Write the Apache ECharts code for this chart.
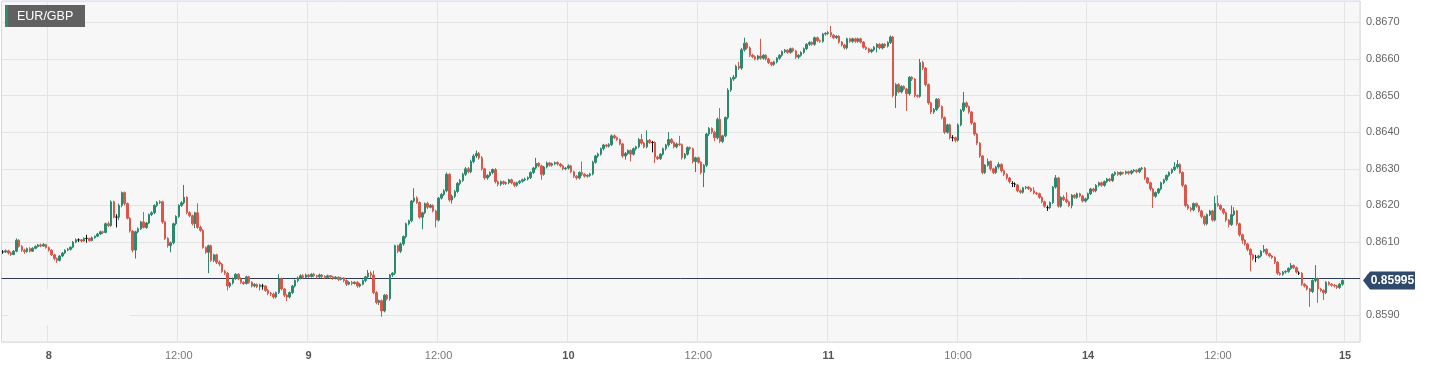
<!DOCTYPE html>
<html>
<head>
<meta charset="utf-8">
<script src="https://cdn.jsdelivr.net/npm/echarts@6/dist/echarts.min.js"></script>
<style>
html,body{margin:0;padding:0;background:#fff;}
#chart{width:1430px;height:368px;}
</style>
</head>
<body>
<div id="chart"></div>
<script>
// EUR/GBP 15-minute candles, each entry: [open, close, low, high]
const d07pm = [[0.86073,0.86073,0.86068,0.86078],[0.86073,0.86076,0.86070,0.86080],[0.86076,0.86070,0.86066,0.86079],[0.86070,0.86066,0.86062,0.86074],[0.86066,0.86075,0.86064,0.86078],[0.86075,0.86105,0.86072,0.86110],[0.86105,0.86088,0.86085,0.86108],[0.86088,0.86078,0.86073,0.86092],[0.86078,0.86074,0.86068,0.86082],[0.86074,0.86082,0.86071,0.86085],[0.86082,0.86075,0.86072,0.86086],[0.86075,0.86083,0.86073,0.86086],[0.86083,0.86088,0.86080,0.86091],[0.86088,0.86092,0.86085,0.86095],[0.86092,0.86089,0.86086,0.86096],[0.86089,0.86093,0.86087,0.86097],[0.86093,0.86085,0.86082,0.86095]];
const d08am = [[0.86085,0.86078,0.86074,0.86088],[0.86078,0.86065,0.86062,0.86080],[0.86065,0.86055,0.86050,0.86068],[0.86055,0.86050,0.86043,0.86058],[0.86050,0.86062,0.86047,0.86064],[0.86062,0.86070,0.86059,0.86073],[0.86070,0.86078,0.86067,0.86080],[0.86078,0.86080,0.86075,0.86084],[0.86080,0.86086,0.86077,0.86088],[0.86086,0.86100,0.86083,0.86103],[0.86100,0.86106,0.86097,0.86110],[0.86106,0.86106,0.86100,0.86110],[0.86106,0.86103,0.86099,0.86108],[0.86103,0.86110,0.86101,0.86113],[0.86110,0.86110,0.86098,0.86120],[0.86110,0.86104,0.86101,0.86112],[0.86104,0.86112,0.86102,0.86115],[0.86112,0.86116,0.86109,0.86118],[0.86116,0.86122,0.86113,0.86125],[0.86122,0.86128,0.86119,0.86131],[0.86128,0.86126,0.86122,0.86131],[0.86126,0.86150,0.86124,0.86153],[0.86150,0.86145,0.86141,0.86156],[0.86145,0.86210,0.86142,0.86214],[0.86210,0.86168,0.86165,0.86213],[0.86168,0.86168,0.86140,0.86176],[0.86168,0.86200,0.86160,0.86205],[0.86200,0.86235,0.86195,0.86238],[0.86235,0.86205,0.86200,0.86238],[0.86205,0.86165,0.86162,0.86208],[0.86165,0.86130,0.86126,0.86168],[0.86130,0.86078,0.86072,0.86133],[0.86078,0.86128,0.86055,0.86131],[0.86128,0.86136,0.86124,0.86140],[0.86136,0.86155,0.86133,0.86158],[0.86155,0.86140,0.86137,0.86182],[0.86140,0.86152,0.86136,0.86155],[0.86152,0.86175,0.86149,0.86178],[0.86175,0.86180,0.86171,0.86184],[0.86180,0.86200,0.86176,0.86203],[0.86200,0.86208,0.86196,0.86212],[0.86208,0.86210,0.86204,0.86214],[0.86210,0.86155,0.86150,0.86213],[0.86155,0.86110,0.86106,0.86158],[0.86110,0.86090,0.86085,0.86113],[0.86090,0.86098,0.86072,0.86101],[0.86098,0.86150,0.86094,0.86153],[0.86150,0.86170,0.86145,0.86173]];
const d08pm = [[0.86170,0.86200,0.86166,0.86203],[0.86200,0.86207,0.86196,0.86212],[0.86207,0.86222,0.86203,0.86256],[0.86222,0.86180,0.86176,0.86225],[0.86180,0.86172,0.86168,0.86184],[0.86172,0.86150,0.86145,0.86175],[0.86150,0.86180,0.86138,0.86183],[0.86180,0.86140,0.86136,0.86206],[0.86140,0.86132,0.86128,0.86145],[0.86132,0.86085,0.86082,0.86135],[0.86085,0.86072,0.86068,0.86088],[0.86072,0.86090,0.86015,0.86093],[0.86090,0.86050,0.86046,0.86093],[0.86050,0.86065,0.86045,0.86068],[0.86065,0.86045,0.86040,0.86068],[0.86045,0.86040,0.86034,0.86050],[0.86040,0.86020,0.86016,0.86043],[0.86020,0.86015,0.86010,0.86024],[0.86015,0.85980,0.85968,0.86018],[0.85980,0.85988,0.85975,0.85991],[0.85988,0.86000,0.85984,0.86003],[0.86000,0.86012,0.85997,0.86015],[0.86012,0.86000,0.85996,0.86015],[0.86000,0.85990,0.85986,0.86004],[0.85990,0.85987,0.85983,0.85993],[0.85987,0.86005,0.85984,0.86008],[0.86005,0.85990,0.85986,0.86008],[0.85990,0.85980,0.85976,0.85993],[0.85980,0.85984,0.85976,0.85988],[0.85984,0.85978,0.85974,0.85987],[0.85978,0.85983,0.85968,0.85986],[0.85980,0.85980,0.85970,0.85986],[0.85980,0.85968,0.85964,0.85982],[0.85968,0.85960,0.85955,0.85972],[0.85960,0.85958,0.85952,0.85964],[0.85958,0.85950,0.85945,0.85962],[0.85950,0.85962,0.85946,0.85965],[0.85962,0.86000,0.85958,0.86012],[0.86000,0.85972,0.85968,0.86003],[0.85972,0.85955,0.85950,0.85975],[0.85955,0.85950,0.85939,0.85958],[0.85950,0.85962,0.85946,0.85965],[0.85962,0.85980,0.85958,0.85983],[0.85980,0.85995,0.85976,0.85998],[0.85995,0.86002,0.85990,0.86006],[0.86002,0.86008,0.85998,0.86012],[0.86008,0.86004,0.86000,0.86012],[0.86004,0.86010,0.86001,0.86014]];
const d09am = [[0.86010,0.86006,0.86002,0.86013],[0.86006,0.86012,0.86003,0.86015],[0.86012,0.86008,0.86004,0.86016],[0.86008,0.86005,0.86000,0.86011],[0.86005,0.86010,0.86002,0.86014],[0.86010,0.86006,0.86002,0.86013],[0.86006,0.86003,0.85999,0.86009],[0.86003,0.86008,0.86000,0.86011],[0.86008,0.86005,0.86000,0.86010],[0.86005,0.86001,0.85997,0.86008],[0.86001,0.86004,0.85998,0.86007],[0.86004,0.85998,0.85994,0.86006],[0.85998,0.86002,0.85995,0.86005],[0.86002,0.85995,0.85990,0.86004],[0.85995,0.85985,0.85980,0.85998],[0.85985,0.85990,0.85982,0.85993],[0.85990,0.85987,0.85982,0.85994],[0.85987,0.85990,0.85984,0.85993],[0.85990,0.85980,0.85975,0.85993],[0.85980,0.85985,0.85976,0.85988],[0.85985,0.85995,0.85982,0.85998],[0.85995,0.86005,0.85990,0.86008],[0.86005,0.86015,0.86000,0.86024],[0.86015,0.86010,0.86002,0.86020],[0.86010,0.85962,0.85958,0.86022],[0.85962,0.85935,0.85930,0.85966],[0.85935,0.85940,0.85928,0.85943],[0.85940,0.85912,0.85896,0.85943],[0.85912,0.85955,0.85908,0.85958],[0.85955,0.85945,0.85941,0.85958],[0.85945,0.86010,0.85940,0.86013],[0.86010,0.86015,0.86005,0.86018],[0.86015,0.86090,0.86010,0.86093],[0.86090,0.86075,0.86070,0.86093],[0.86075,0.86095,0.86070,0.86099],[0.86095,0.86115,0.86090,0.86118],[0.86115,0.86150,0.86110,0.86153],[0.86150,0.86158,0.86146,0.86161],[0.86158,0.86212,0.86154,0.86215],[0.86212,0.86220,0.86208,0.86247],[0.86220,0.86208,0.86204,0.86225],[0.86208,0.86168,0.86164,0.86211],[0.86168,0.86180,0.86135,0.86183],[0.86180,0.86205,0.86176,0.86208],[0.86205,0.86195,0.86190,0.86210],[0.86195,0.86200,0.86192,0.86204],[0.86200,0.86185,0.86181,0.86203],[0.86185,0.86160,0.86140,0.86188]];
const d09pm = [[0.86160,0.86220,0.86156,0.86223],[0.86220,0.86230,0.86216,0.86234],[0.86230,0.86240,0.86226,0.86244],[0.86240,0.86285,0.86236,0.86290],[0.86285,0.86215,0.86210,0.86288],[0.86215,0.86225,0.86205,0.86230],[0.86225,0.86238,0.86220,0.86242],[0.86238,0.86260,0.86234,0.86264],[0.86260,0.86268,0.86255,0.86272],[0.86268,0.86285,0.86264,0.86289],[0.86285,0.86300,0.86280,0.86305],[0.86300,0.86292,0.86288,0.86305],[0.86292,0.86320,0.86288,0.86325],[0.86320,0.86335,0.86315,0.86340],[0.86335,0.86342,0.86330,0.86350],[0.86342,0.86330,0.86325,0.86346],[0.86330,0.86300,0.86295,0.86335],[0.86300,0.86275,0.86270,0.86303],[0.86275,0.86282,0.86270,0.86285],[0.86282,0.86290,0.86278,0.86293],[0.86290,0.86298,0.86285,0.86301],[0.86298,0.86265,0.86260,0.86302],[0.86265,0.86258,0.86252,0.86268],[0.86258,0.86265,0.86253,0.86268],[0.86265,0.86260,0.86256,0.86268],[0.86260,0.86262,0.86256,0.86265],[0.86262,0.86270,0.86258,0.86273],[0.86270,0.86262,0.86258,0.86273],[0.86262,0.86255,0.86250,0.86265],[0.86255,0.86262,0.86251,0.86265],[0.86262,0.86266,0.86258,0.86269],[0.86266,0.86270,0.86262,0.86273],[0.86270,0.86272,0.86266,0.86276],[0.86272,0.86276,0.86268,0.86279],[0.86276,0.86290,0.86272,0.86293],[0.86290,0.86302,0.86286,0.86305],[0.86302,0.86315,0.86298,0.86330],[0.86315,0.86308,0.86304,0.86318],[0.86308,0.86285,0.86270,0.86311],[0.86285,0.86305,0.86281,0.86308],[0.86305,0.86316,0.86301,0.86320],[0.86316,0.86310,0.86306,0.86319],[0.86310,0.86314,0.86306,0.86317],[0.86314,0.86317,0.86310,0.86320],[0.86317,0.86313,0.86309,0.86320],[0.86313,0.86308,0.86304,0.86316],[0.86308,0.86300,0.86296,0.86311],[0.86300,0.86302,0.86296,0.86305]];
const d10am = [[0.86302,0.86308,0.86298,0.86312],[0.86308,0.86292,0.86288,0.86311],[0.86292,0.86280,0.86275,0.86295],[0.86280,0.86275,0.86270,0.86283],[0.86275,0.86290,0.86271,0.86293],[0.86290,0.86285,0.86280,0.86320],[0.86285,0.86280,0.86276,0.86288],[0.86280,0.86282,0.86276,0.86285],[0.86282,0.86286,0.86278,0.86289],[0.86286,0.86318,0.86282,0.86322],[0.86318,0.86335,0.86314,0.86338],[0.86335,0.86340,0.86330,0.86344],[0.86340,0.86355,0.86336,0.86358],[0.86355,0.86365,0.86350,0.86368],[0.86365,0.86362,0.86358,0.86368],[0.86362,0.86366,0.86358,0.86370],[0.86366,0.86390,0.86362,0.86394],[0.86390,0.86385,0.86381,0.86394],[0.86385,0.86380,0.86376,0.86388],[0.86380,0.86368,0.86364,0.86383],[0.86368,0.86335,0.86330,0.86371],[0.86335,0.86342,0.86325,0.86346],[0.86342,0.86350,0.86338,0.86353],[0.86350,0.86340,0.86320,0.86353],[0.86340,0.86355,0.86336,0.86358],[0.86355,0.86360,0.86350,0.86363],[0.86360,0.86380,0.86356,0.86384],[0.86380,0.86370,0.86366,0.86395],[0.86370,0.86360,0.86356,0.86374],[0.86360,0.86378,0.86356,0.86405],[0.86378,0.86372,0.86368,0.86381],[0.86372,0.86372,0.86345,0.86376],[0.86372,0.86332,0.86316,0.86375],[0.86332,0.86328,0.86324,0.86336],[0.86328,0.86340,0.86324,0.86343],[0.86340,0.86355,0.86336,0.86358],[0.86355,0.86365,0.86350,0.86368],[0.86365,0.86380,0.86360,0.86400],[0.86380,0.86372,0.86368,0.86384],[0.86372,0.86360,0.86356,0.86375],[0.86360,0.86368,0.86356,0.86372],[0.86368,0.86366,0.86362,0.86390],[0.86366,0.86330,0.86325,0.86369],[0.86330,0.86340,0.86326,0.86343],[0.86340,0.86358,0.86336,0.86361],[0.86358,0.86355,0.86350,0.86361],[0.86355,0.86320,0.86315,0.86358],[0.86320,0.86330,0.86291,0.86333]];
const d10pm = [[0.86330,0.86318,0.86314,0.86333],[0.86318,0.86290,0.86285,0.86321],[0.86290,0.86310,0.86250,0.86313],[0.86310,0.86395,0.86305,0.86398],[0.86395,0.86410,0.86390,0.86414],[0.86410,0.86400,0.86395,0.86413],[0.86400,0.86385,0.86375,0.86404],[0.86385,0.86435,0.86380,0.86440],[0.86435,0.86375,0.86370,0.86466],[0.86375,0.86390,0.86370,0.86393],[0.86390,0.86440,0.86386,0.86443],[0.86440,0.86515,0.86435,0.86520],[0.86515,0.86545,0.86510,0.86550],[0.86545,0.86550,0.86540,0.86556],[0.86550,0.86580,0.86546,0.86584],[0.86580,0.86575,0.86570,0.86592],[0.86575,0.86625,0.86570,0.86630],[0.86625,0.86643,0.86620,0.86658],[0.86643,0.86630,0.86626,0.86646],[0.86630,0.86610,0.86605,0.86634],[0.86610,0.86606,0.86602,0.86614],[0.86606,0.86600,0.86596,0.86610],[0.86600,0.86608,0.86596,0.86611],[0.86608,0.86602,0.86598,0.86655],[0.86602,0.86610,0.86598,0.86613],[0.86610,0.86600,0.86596,0.86613],[0.86600,0.86590,0.86586,0.86603],[0.86590,0.86585,0.86580,0.86593],[0.86585,0.86592,0.86581,0.86595],[0.86592,0.86602,0.86588,0.86605],[0.86602,0.86610,0.86598,0.86613],[0.86610,0.86620,0.86606,0.86623],[0.86620,0.86624,0.86616,0.86627],[0.86624,0.86618,0.86614,0.86627],[0.86618,0.86628,0.86614,0.86631],[0.86628,0.86622,0.86618,0.86631],[0.86622,0.86605,0.86600,0.86625],[0.86605,0.86610,0.86600,0.86613],[0.86610,0.86618,0.86606,0.86621],[0.86618,0.86628,0.86614,0.86631],[0.86628,0.86640,0.86624,0.86643],[0.86640,0.86645,0.86636,0.86648],[0.86645,0.86640,0.86636,0.86648],[0.86640,0.86658,0.86636,0.86661],[0.86658,0.86650,0.86646,0.86661],[0.86650,0.86648,0.86644,0.86653],[0.86648,0.86668,0.86644,0.86671],[0.86668,0.86670,0.86664,0.86673]];
const d11am = [[0.86670,0.86672,0.86666,0.86676],[0.86672,0.86665,0.86660,0.86690],[0.86665,0.86658,0.86654,0.86668],[0.86658,0.86662,0.86654,0.86665],[0.86662,0.86646,0.86642,0.86665],[0.86646,0.86638,0.86634,0.86649],[0.86638,0.86630,0.86626,0.86641],[0.86630,0.86655,0.86626,0.86658],[0.86655,0.86648,0.86644,0.86658],[0.86648,0.86655,0.86644,0.86658],[0.86655,0.86648,0.86644,0.86658],[0.86648,0.86655,0.86644,0.86658],[0.86655,0.86646,0.86642,0.86658],[0.86646,0.86632,0.86628,0.86649],[0.86632,0.86628,0.86624,0.86635],[0.86628,0.86620,0.86616,0.86631],[0.86620,0.86625,0.86616,0.86628],[0.86625,0.86632,0.86621,0.86635],[0.86632,0.86640,0.86618,0.86643],[0.86640,0.86630,0.86626,0.86643],[0.86630,0.86640,0.86626,0.86643],[0.86640,0.86635,0.86630,0.86643],[0.86635,0.86645,0.86631,0.86648],[0.86645,0.86660,0.86641,0.86664],[0.86660,0.86500,0.86495,0.86663],[0.86500,0.86530,0.86466,0.86534],[0.86530,0.86510,0.86506,0.86534],[0.86510,0.86525,0.86506,0.86528],[0.86525,0.86518,0.86514,0.86528],[0.86518,0.86505,0.86458,0.86521],[0.86505,0.86550,0.86500,0.86553],[0.86550,0.86545,0.86540,0.86553],[0.86545,0.86500,0.86495,0.86548],[0.86500,0.86498,0.86494,0.86503],[0.86498,0.86590,0.86494,0.86600],[0.86590,0.86575,0.86570,0.86595],[0.86575,0.86530,0.86525,0.86578],[0.86530,0.86480,0.86475,0.86533],[0.86480,0.86455,0.86450,0.86483],[0.86455,0.86462,0.86450,0.86466],[0.86462,0.86490,0.86458,0.86493],[0.86490,0.86470,0.86465,0.86493],[0.86470,0.86440,0.86435,0.86473],[0.86440,0.86400,0.86395,0.86443],[0.86400,0.86420,0.86396,0.86423],[0.86420,0.86385,0.86380,0.86423],[0.86385,0.86385,0.86375,0.86392],[0.86385,0.86378,0.86372,0.86388]];
const d11pm = [[0.86378,0.86420,0.86374,0.86424],[0.86420,0.86460,0.86416,0.86463],[0.86460,0.86480,0.86455,0.86510],[0.86480,0.86470,0.86466,0.86484],[0.86470,0.86455,0.86450,0.86473],[0.86455,0.86425,0.86420,0.86458],[0.86425,0.86395,0.86390,0.86428],[0.86395,0.86370,0.86365,0.86398],[0.86370,0.86335,0.86330,0.86373],[0.86335,0.86290,0.86285,0.86338],[0.86290,0.86310,0.86286,0.86313],[0.86310,0.86320,0.86306,0.86328],[0.86320,0.86300,0.86295,0.86323],[0.86300,0.86290,0.86285,0.86303],[0.86290,0.86305,0.86286,0.86308],[0.86305,0.86312,0.86300,0.86318],[0.86312,0.86295,0.86290,0.86315],[0.86295,0.86285,0.86280,0.86298],[0.86285,0.86275,0.86270,0.86288],[0.86275,0.86265,0.86260,0.86278],[0.86260,0.86260,0.86250,0.86266],[0.86258,0.86258,0.86250,0.86263],[0.86256,0.86240,0.86236,0.86259],[0.86240,0.86236,0.86232,0.86244],[0.86236,0.86248,0.86232,0.86251],[0.86248,0.86250,0.86244,0.86253],[0.86250,0.86246,0.86242,0.86253],[0.86246,0.86240,0.86236,0.86249],[0.86240,0.86234,0.86230,0.86250],[0.86234,0.86232,0.86228,0.86237],[0.86232,0.86222,0.86218,0.86235],[0.86222,0.86210,0.86206,0.86225],[0.86210,0.86198,0.86194,0.86213],[0.86194,0.86194,0.86185,0.86200],[0.86194,0.86208,0.86190,0.86211],[0.86208,0.86250,0.86204,0.86253],[0.86250,0.86275,0.86246,0.86283],[0.86275,0.86198,0.86194,0.86278],[0.86198,0.86222,0.86194,0.86225],[0.86222,0.86216,0.86212,0.86228],[0.86216,0.86210,0.86206,0.86236],[0.86210,0.86200,0.86196,0.86213],[0.86200,0.86228,0.86192,0.86231],[0.86228,0.86222,0.86218,0.86231],[0.86222,0.86232,0.86218,0.86235],[0.86232,0.86226,0.86222,0.86235],[0.86226,0.86212,0.86208,0.86229],[0.86212,0.86218,0.86208,0.86221]];
const d14am = [[0.86218,0.86232,0.86214,0.86235],[0.86232,0.86245,0.86228,0.86248],[0.86245,0.86240,0.86236,0.86248],[0.86240,0.86255,0.86236,0.86258],[0.86255,0.86262,0.86251,0.86265],[0.86262,0.86255,0.86251,0.86265],[0.86255,0.86265,0.86251,0.86268],[0.86265,0.86272,0.86261,0.86275],[0.86272,0.86268,0.86264,0.86275],[0.86268,0.86285,0.86264,0.86288],[0.86285,0.86290,0.86281,0.86293],[0.86290,0.86285,0.86281,0.86293],[0.86285,0.86290,0.86281,0.86293],[0.86290,0.86288,0.86284,0.86292],[0.86288,0.86292,0.86284,0.86295],[0.86292,0.86288,0.86284,0.86295],[0.86288,0.86294,0.86284,0.86297],[0.86294,0.86296,0.86290,0.86299],[0.86296,0.86292,0.86288,0.86299],[0.86292,0.86300,0.86288,0.86303],[0.86300,0.86302,0.86296,0.86305],[0.86302,0.86275,0.86270,0.86305],[0.86275,0.86262,0.86258,0.86278],[0.86262,0.86245,0.86240,0.86265],[0.86245,0.86225,0.86193,0.86248],[0.86225,0.86235,0.86221,0.86238],[0.86235,0.86245,0.86231,0.86248],[0.86245,0.86262,0.86241,0.86265],[0.86262,0.86270,0.86258,0.86273],[0.86270,0.86282,0.86266,0.86285],[0.86282,0.86290,0.86278,0.86293],[0.86290,0.86298,0.86286,0.86301],[0.86298,0.86305,0.86294,0.86318],[0.86305,0.86312,0.86300,0.86324],[0.86312,0.86290,0.86286,0.86315],[0.86290,0.86255,0.86250,0.86293],[0.86255,0.86200,0.86195,0.86258],[0.86200,0.86192,0.86188,0.86204],[0.86192,0.86188,0.86183,0.86196],[0.86188,0.86205,0.86184,0.86208],[0.86205,0.86198,0.86194,0.86208],[0.86198,0.86185,0.86181,0.86201],[0.86185,0.86170,0.86165,0.86188],[0.86170,0.86150,0.86145,0.86173],[0.86150,0.86175,0.86146,0.86178],[0.86175,0.86185,0.86171,0.86188],[0.86185,0.86160,0.86156,0.86188],[0.86160,0.86205,0.86156,0.86225]];
const d14pm = [[0.86205,0.86200,0.86196,0.86228],[0.86200,0.86190,0.86186,0.86203],[0.86190,0.86180,0.86175,0.86193],[0.86180,0.86160,0.86155,0.86183],[0.86160,0.86148,0.86140,0.86163],[0.86148,0.86175,0.86144,0.86200],[0.86175,0.86185,0.86171,0.86195],[0.86185,0.86150,0.86145,0.86188],[0.86150,0.86120,0.86115,0.86153],[0.86120,0.86105,0.86095,0.86123],[0.86105,0.86095,0.86090,0.86108],[0.86095,0.86080,0.86075,0.86098],[0.86080,0.86065,0.86020,0.86083],[0.86065,0.86055,0.86050,0.86068],[0.86058,0.86058,0.86045,0.86065],[0.86058,0.86062,0.86054,0.86065],[0.86062,0.86075,0.86058,0.86078],[0.86075,0.86080,0.86071,0.86092],[0.86080,0.86068,0.86064,0.86083],[0.86068,0.86062,0.86058,0.86071],[0.86062,0.86058,0.86054,0.86065],[0.86058,0.86045,0.86040,0.86061],[0.86045,0.86015,0.86010,0.86048],[0.86015,0.86012,0.86008,0.86018],[0.86012,0.86018,0.86008,0.86021],[0.86018,0.86020,0.86014,0.86023],[0.86020,0.86028,0.86016,0.86031],[0.86028,0.86036,0.86024,0.86043],[0.86036,0.86030,0.86026,0.86039],[0.86030,0.86018,0.86014,0.86033],[0.86015,0.86015,0.86010,0.86020],[0.86015,0.85985,0.85980,0.86018],[0.85985,0.85980,0.85976,0.85988],[0.85980,0.85972,0.85968,0.85983],[0.85972,0.85965,0.85923,0.85975],[0.85965,0.85995,0.85961,0.85998],[0.85995,0.86000,0.85990,0.86037],[0.86000,0.85972,0.85934,0.86003],[0.85972,0.85968,0.85964,0.85975],[0.85968,0.85962,0.85942,0.85971],[0.85962,0.85990,0.85958,0.85993],[0.85990,0.85985,0.85981,0.85993],[0.85985,0.85982,0.85978,0.85988],[0.85982,0.85980,0.85976,0.85985],[0.85980,0.85976,0.85972,0.85983],[0.85976,0.85985,0.85972,0.85988],[0.85985,0.85995,0.85981,0.85998]];

// half-day blocks and the label shown at the start of each block
const blocks = [d07pm, d08am, d08pm, d09am, d09pm, d10am, d10pm, d11am, d11pm, d14am, d14pm];
const blockLabels = ['', '8', '12:00', '9', '12:00', '10', '12:00', '11', '10:00', '14', '12:00'];
const endLabel = '15';
const symbol = 'EUR/GBP';
const lastPrice = 0.85995;

const categories = [];
const candles = [];
blocks.forEach((b, s) => {
  b.forEach((c, i) => {
    categories.push((i === 0 ? blockLabels[s] : '') + '|' + s + '_' + i);
    candles.push(c);
  });
});
categories.push(endLabel + '|end');
for (let i = 0; i < 5; i++) categories.push('|pad' + i);

const shown = (idx, v) => v.split('|')[0] !== '';

const UP = '#2b8a6e', DOWN = '#d9584b';
const chart = echarts.init(document.getElementById('chart'), null, {renderer: 'canvas'});
const FONT = 'Arial, "Liberation Sans", Helvetica, sans-serif';

chart.setOption({
  animation: false,
  backgroundColor: '#ffffff',
  grid: {left: 1.5, right: 70, top: 1, bottom: 26, show: true, backgroundColor: '#f7f7f7', borderColor: '#d3d8ea', borderWidth: 1},
  xAxis: {
    type: 'category', data: categories, boundaryGap: true,
    axisLine: {show: false}, axisTick: {show: false},
    axisLabel: {
      interval: shown, margin: 8, fontFamily: FONT,
      formatter: v => {
        const t = v.split('|')[0];
        return t.indexOf(':') >= 0 ? '{n|' + t + '}' : '{b|' + t + '}';
      },
      rich: {
        b: {fontWeight: 'bold', color: '#555', fontSize: 11, fontFamily: FONT},
        n: {color: '#777', fontSize: 11, fontFamily: FONT}
      }
    },
    splitLine: {show: true, interval: shown, lineStyle: {color: '#e4e4e4', width: 1}}
  },
  yAxis: {
    type: 'value', position: 'right', scale: true,
    min: 0.858271, max: 0.867582, splitNumber: 9,
    axisLine: {show: false}, axisTick: {show: false},
    axisLabel: {color: '#666', fontSize: 11, margin: 6, fontFamily: FONT, showMinLabel: false, showMaxLabel: false,
      formatter: v => v.toFixed(4)},
    splitLine: {lineStyle: {color: '#e4e4e4', width: 1}}
  },
  series: [{
    type: 'candlestick',
    data: candles,
    barWidth: 2,
    z: 5,
    itemStyle: {color: UP, color0: DOWN, borderColor: UP, borderColor0: DOWN, borderColorDoji: '#111', borderWidth: 1},
    markLine: {
      silent: true, symbol: 'none', animation: false,
      lineStyle: {color: '#2c3e57', width: 1, type: 'solid'},
      label: {show: false},
      data: [{yAxis: lastPrice}]
    }
  }]
});

// price tag on the right axis, positioned through the value axis
const py = chart.convertToPixel({yAxisIndex: 0}, lastPrice);
const gx = chart.convertToPixel({xAxisIndex: 0}, categories.length - 1) + 2.7 / 2;
const x0 = gx + 3;
chart.setOption({
  graphic: [
    // faint watermark area in the lower-left corner that hides the grid lines
    {type: 'rect', z: 1, left: 8, top: 289, shape: {width: 122, height: 36}, style: {fill: '#f7f7f7'}},
    {type: 'rect', z: 100, left: 5, top: 5, shape: {width: 80, height: 22}, style: {fill: 'rgba(88,88,88,0.95)'}},
    {type: 'rect', z: 101, left: 5, top: 5, shape: {width: 3, height: 22}, style: {fill: '#2e8b6e'}},
    {type: 'text', z: 101, left: 17, top: 10, style: {text: symbol, fill: '#fff', font: '12.5px ' + FONT}},
    {type: 'polygon', z: 100, shape: {points: [[x0, py], [x0 + 7, py - 9], [x0 + 52, py - 9], [x0 + 52, py + 9], [x0 + 7, py + 9]]}, style: {fill: '#2f4a6d'}},
    {type: 'text', z: 101, x: x0 + 29.5, y: py + 0.5, style: {text: lastPrice.toFixed(5), fill: '#fff', font: 'bold 12px ' + FONT, align: 'center', verticalAlign: 'middle'}}
  ]
});
</script>
</body>
</html>
